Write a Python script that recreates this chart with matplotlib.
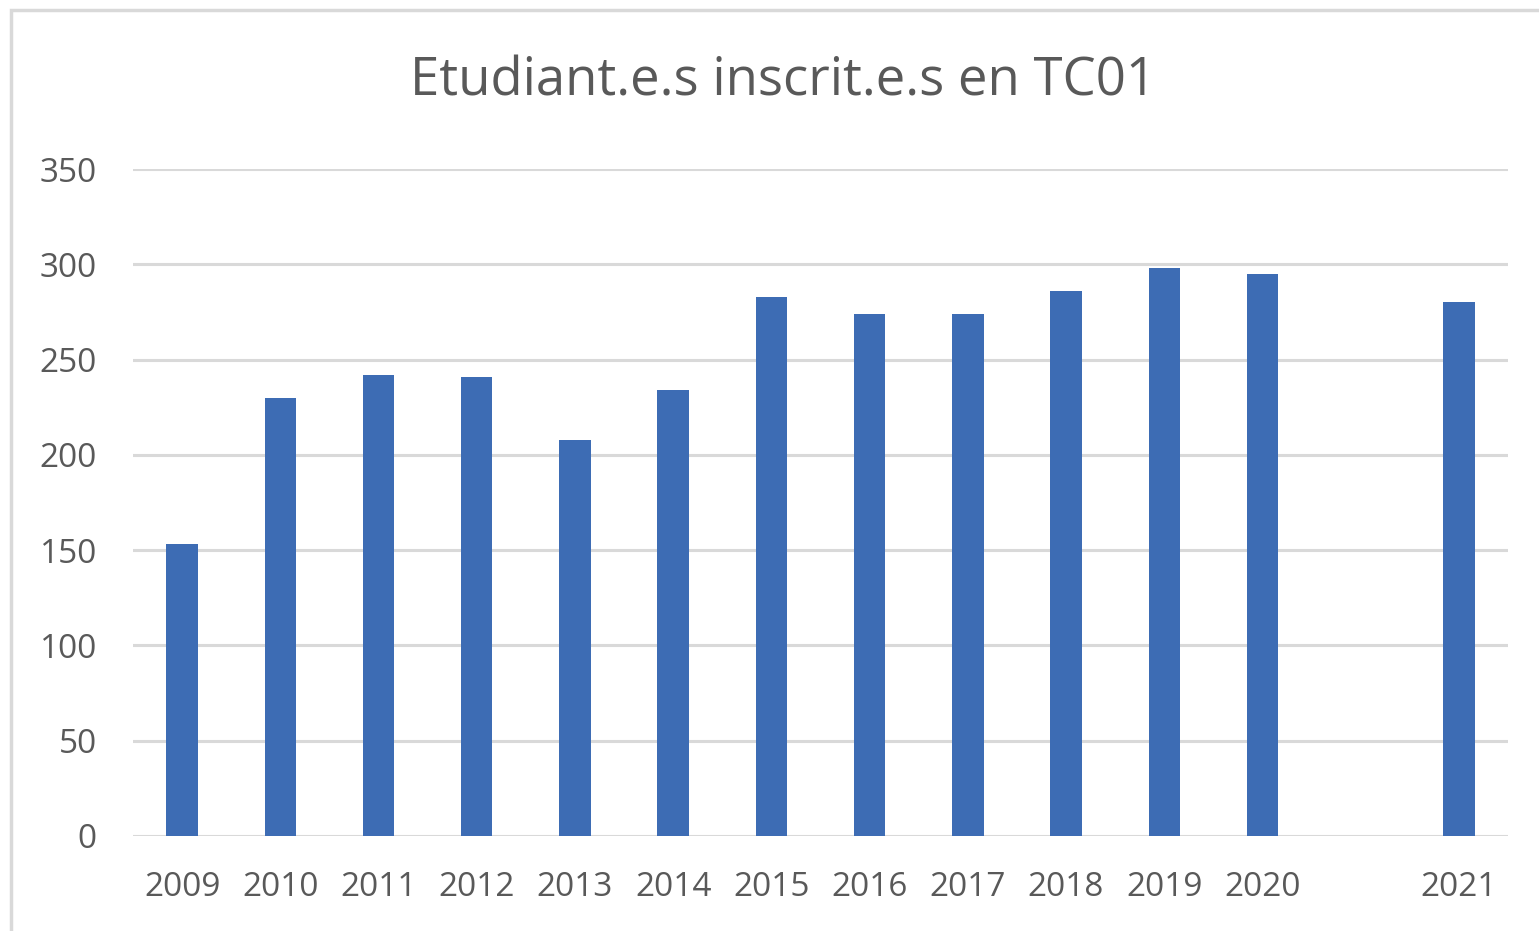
import numpy as np
import matplotlib.pyplot as plt
from matplotlib.patches import Rectangle

years = ['2009', '2010', '2011', '2012', '2013', '2014', '2015', '2016',
         '2017', '2018', '2019', '2020', '2021']
students = [153, 230, 242, 241, 208, 234, 283, 274, 274, 286, 298, 295, 280]
# an empty category sits between 2020 and 2021
slots = list(range(12)) + [13]

plt.rcParams['font.family'] = ['Open Sans', 'DejaVu Sans']
grey_txt = '#595959'

fig = plt.figure(figsize=(15.39, 9.31), dpi=100)
ax = fig.add_axes([133/1539, 1 - 836/931, 1375/1539, 667/931])

ax.bar(slots, students, width=0.32, color='#3D6CB4', zorder=3)

ax.set_xlim(-0.5, 13.5)
ax.set_ylim(0, 350)
ax.set_yticks(np.arange(0, 351, 50))
ax.set_xticks(slots)
ax.set_xticklabels(years)
ax.yaxis.grid(True, color='#d9d9d9', linewidth=2.2, zorder=0)
for s in ax.spines.values():
    s.set_visible(False)
ax.tick_params(axis='both', length=0, labelsize=24, colors=grey_txt)
ax.tick_params(axis='y', pad=26)
ax.tick_params(axis='x', pad=25)

fig.text(783/1539, 1 - 82/931, 'Etudiant.e.s inscrit.e.s en TC01',
         ha='center', va='center', fontsize=38, color=grey_txt)

# chart frame
fig.patches.append(Rectangle((11/1539, -0.05), 1.2, 1 - 10/931 + 0.05,
                             transform=fig.transFigure, fill=False,
                             edgecolor='#d9d9d9', linewidth=2.5))

fig.savefig('out.png', dpi=100)
